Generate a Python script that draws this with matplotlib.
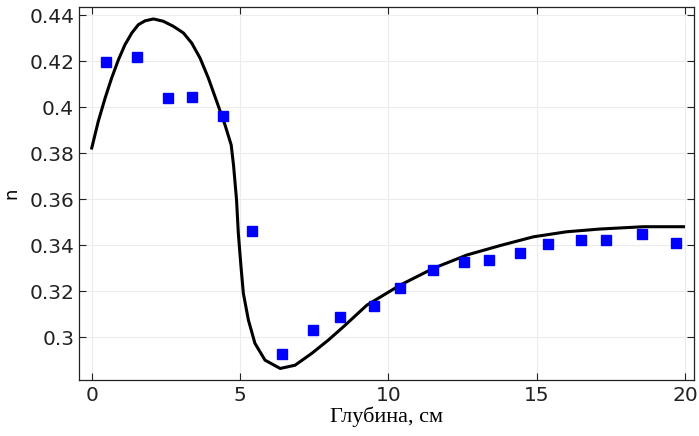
import matplotlib.pyplot as plt

# measured points
depth_pts = [0.48, 1.52, 2.57, 3.38, 4.43, 5.41, 6.42, 7.46, 8.37, 9.52,
             10.39, 11.5, 12.55, 13.4, 14.44, 15.38, 16.5, 17.34, 18.55, 19.7]
n_pts = [0.4196, 0.4217, 0.4039, 0.4043, 0.3961, 0.3461, 0.2926, 0.303, 0.3087, 0.3135,
         0.3213, 0.3291, 0.3326, 0.3335, 0.3365, 0.3404, 0.3422, 0.3422, 0.3448, 0.3409]

# model curve
depth_fit = [0.0, 0.22, 0.45, 0.67, 0.9, 1.12, 1.35, 1.57, 1.8, 2.08, 2.41, 2.75,
             3.09, 3.37, 3.65, 3.93, 4.21, 4.49, 4.7, 4.78, 4.88, 4.94, 5.03, 5.11,
             5.28, 5.5, 5.84, 6.35, 6.85, 7.41, 7.97, 8.48, 9.27, 10.39, 11.51,
             12.64, 13.76, 14.88, 16.0, 17.13, 18.6, 19.94]
n_fit = [0.3822, 0.3938, 0.4039, 0.4126, 0.4206, 0.4271, 0.4322, 0.4358, 0.4375,
         0.4383, 0.4373, 0.4351, 0.4322, 0.4278, 0.4213, 0.4126, 0.4025, 0.3923,
         0.3835, 0.3745, 0.3596, 0.3451, 0.3306, 0.319, 0.3074, 0.2973, 0.29,
         0.2864, 0.2878, 0.2929, 0.2987, 0.3045, 0.3139, 0.3226, 0.3299, 0.3357,
         0.3398, 0.3436, 0.3458, 0.347, 0.348, 0.348]

fig = plt.figure(figsize=(6.99, 4.36), dpi=100)
ax = fig.add_axes([0.113, 0.128, 0.88, 0.856])

ax.plot(depth_fit, n_fit, '-', color='black', linewidth=2.2, zorder=3,
        solid_joinstyle='round')
ax.plot(depth_pts, n_pts, 's', color='#0000ff', markersize=6.5, zorder=4)

ax.set_xlim(-0.43, 20.3)
ax.set_ylim(0.2813, 0.4435)
ax.set_xticks([0, 5, 10, 15, 20])
ax.set_yticks([0.3, 0.32, 0.34, 0.36, 0.38, 0.4, 0.42, 0.44])
ax.set_yticklabels(['0.3', '0.32', '0.34', '0.36', '0.38', '0.4', '0.42', '0.44'])

ax.grid(True, color='#ececec', linewidth=0.8)
ax.set_axisbelow(True)
ax.tick_params(direction='in', length=5, width=0.8, labelsize=14.5,
               top=True, right=True, colors='#222222')
ax.tick_params(axis='x', pad=4)
for s in ax.spines.values():
    s.set_color('#222222')
    s.set_linewidth(0.9)

ax.set_xlabel('Глубина, см', family='Liberation Serif', fontsize=16, labelpad=1)
ax.set_ylabel('n', fontsize=13, labelpad=6)

fig.savefig('out.png', dpi=100)
